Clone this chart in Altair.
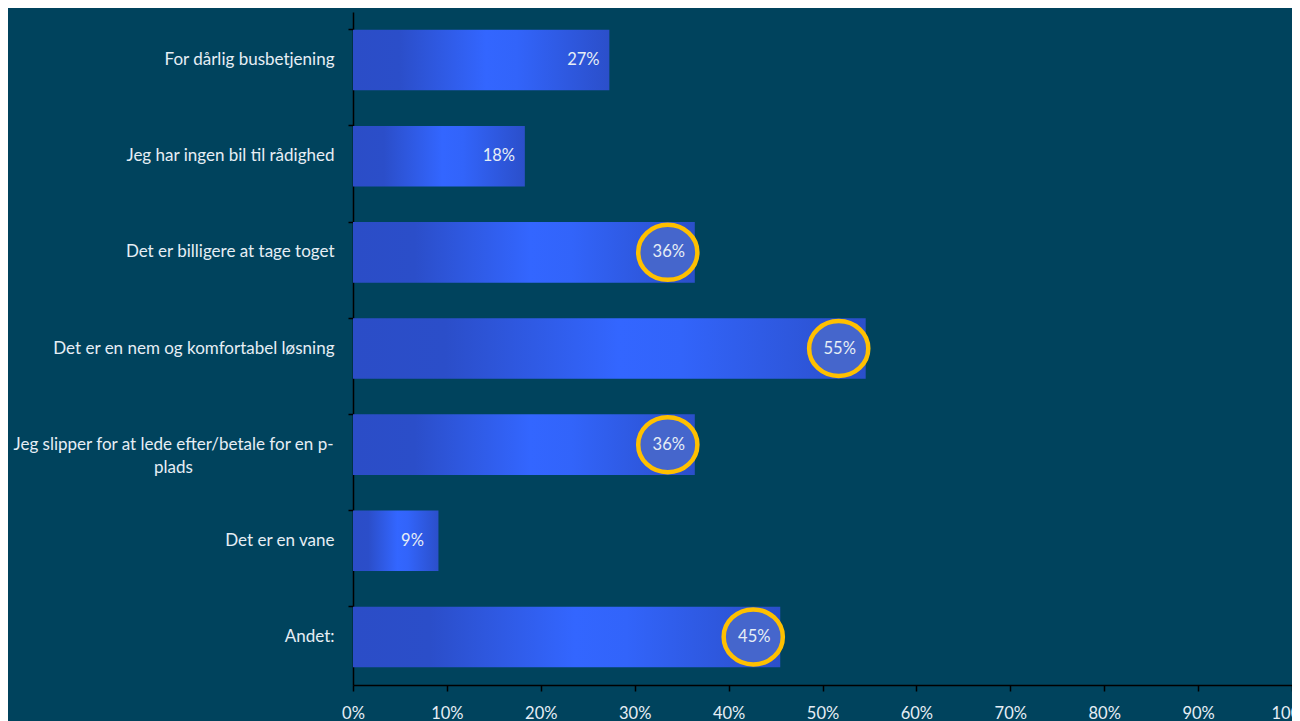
import altair as alt
import pandas as pd

categories = [
    "For dårlig busbetjening",
    "Jeg har ingen bil til rådighed",
    "Det er billigere at tage toget",
    "Det er en nem og komfortabel løsning",
    "Jeg slipper for at lede efter/betale for en p-|plads",
    "Det er en vane",
    "Andet:",
]
values = [27.3, 18.3, 36.4, 54.6, 36.4, 9.1, 45.5]
value_labels = ["27%", "18%", "36%", "55%", "36%", "9%", "45%"]
highlighted = [False, False, True, True, True, False, True]
x_ticks = [0, 10, 20, 30, 40, 50, 60, 70, 80, 90, 100]

df = pd.DataFrame({
    "cat": categories,
    "val": values,
    "lab": value_labels,
    "hl": highlighted,
})

BG = "#00435D"
FONT = "Lato"
TXT = "#E6EEF5"

gradient = alt.LinearGradient(
    gradient="linear",
    stops=[
        alt.GradientStop(offset=0.0, color="#2B4DC7"),
        alt.GradientStop(offset=0.18, color="#2B4EC9"),
        alt.GradientStop(offset=0.52, color="#3366FF"),
        alt.GradientStop(offset=0.64, color="#3264FA"),
        alt.GradientStop(offset=1.0, color="#2B4FCA"),
    ],
    x1=0, x2=1, y1=0, y2=0,
)

y_enc = alt.Y(
    "cat:N",
    sort=categories,
    scale=alt.Scale(paddingInner=0.37, paddingOuter=0.185),
    axis=alt.Axis(
        title=None,
        bandPosition=0,
        domainColor="#000000",
        domainWidth=1.5,
        tickColor="#000000",
        tickWidth=1.5,
        tickSize=5,
        labelExpr="split(datum.value, '|')",
        labelAlign={"condition": {"test": "indexof(datum.value, '|') >= 0", "value": "center"}, "value": "right"},
        labelPadding={"condition": {"test": "indexof(datum.value, '|') >= 0", "value": 175}, "value": 14},
        labelColor=TXT,
        labelFont=FONT,
        labelFontSize=17,
        labelLineHeight=23,
        labelBaseline="middle",
        labelLimit=400,
    ),
)

x_enc = alt.X(
    "val:Q",
    scale=alt.Scale(domain=[0, 100], nice=False),
    axis=alt.Axis(
        title=None,
        values=x_ticks,
        labelExpr="datum.value + '%'",
        domainColor="#000000",
        domainWidth=1.5,
        tickColor="#000000",
        tickWidth=1.5,
        tickSize=6,
        labelPadding=14,
        labelColor=TXT,
        labelFont=FONT,
        labelFontSize=16.5,
        grid=False,
        labelFlush=False,
    ),
)

bars = alt.Chart(df).mark_bar(color=gradient, cornerRadius=0).encode(y=y_enc, x=x_enc)

ellipse = "M-1,0 A1,0.93 0 1,0 1,0 A1,0.93 0 1,0 -1,0 Z"
circles = alt.Chart(df).transform_filter("datum.hl").mark_point(
    shape=ellipse,
    size=3500,
    filled=False,
    fill="#4566CC",
    fillOpacity=1,
    stroke="#FFC000",
    strokeWidth=4.5,
    opacity=1,
    xOffset=-27,
).encode(y=alt.Y("cat:N", sort=categories), x=alt.X("val:Q"))

texts = alt.Chart(df).mark_text(
    align="center",
    baseline="middle",
    dx=-26,
    font=FONT,
    fontSize=16.5,
    color=TXT,
).encode(y=alt.Y("cat:N", sort=categories), x=alt.X("val:Q"), text="lab:N")

chart = (
    alt.layer(bars, circles, texts)
    .properties(
        width=939,
        height=673,
        background=BG,
        autosize=alt.AutoSizeParams(type="none"),
        padding={"left": 345, "top": 4, "right": 0, "bottom": 36},
    )
    .configure_view(stroke=None, fill=BG)
)

chart.save("out.html", embed_options={"renderer": "svg", "actions": False})
